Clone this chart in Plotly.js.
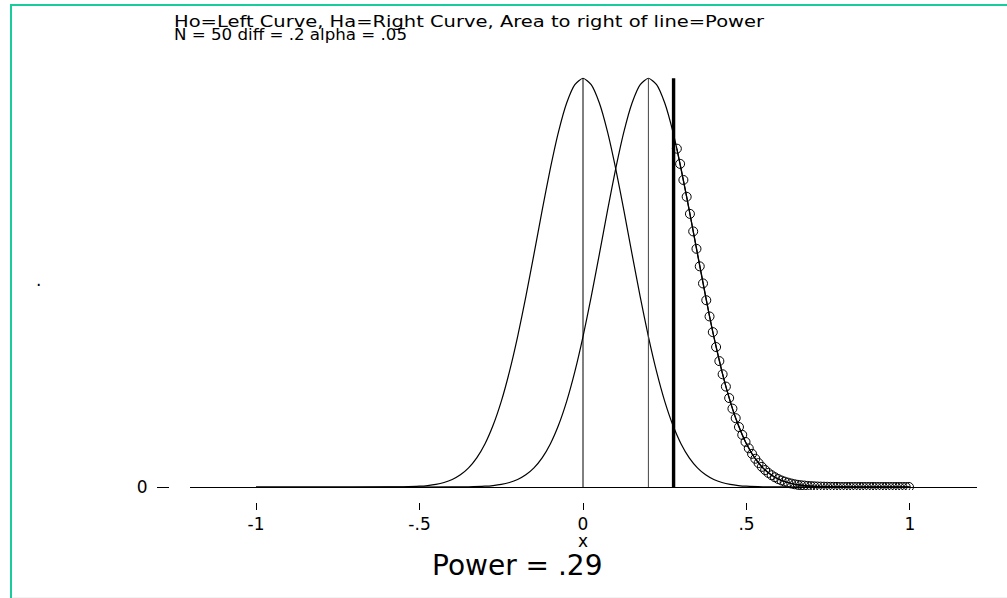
<!DOCTYPE html>
<html>
<head>
<meta charset="utf-8">
<script src="https://cdn.plot.ly/plotly-3.0.1.min.js"></script>
<style>
  html, body { margin: 0; padding: 0; background: #ffffff; }
  #wrap { position: relative; width: 1007px; height: 598px; overflow: hidden; }
  #chart { position: absolute; left: 0; top: 0; width: 1007px; height: 598px; }
  #frame { position: absolute; left: 10px; top: 4px; width: 1100px; height: 700px;
           border-left: 2px solid #19cc9c; border-top: 2px solid #19cc9c; pointer-events: none; }
  #bottomline { position: absolute; left: 12px; top: 597px; width: 1000px; height: 1px; background: #f2f4f4; }
</style>
</head>
<body>
<div id="wrap">
  <div id="chart"></div>
  <div id="frame"></div>
  <div id="bottomline"></div>
</div>
<script>
// ---- data ----
const hoX = [-1, -0.8, -0.6, -0.55, -0.5, -0.475, -0.45, -0.425, -0.4, -0.375, -0.35, -0.325, -0.3, -0.275,
  -0.25, -0.225, -0.2, -0.175, -0.15, -0.125, -0.1, -0.075, -0.05, -0.025, 0, 0.025, 0.05, 0.075, 0.1,
  0.125, 0.15, 0.175, 0.2, 0.225, 0.25, 0.275, 0.3, 0.325, 0.35, 0.375, 0.4, 0.425, 0.45, 0.475, 0.5,
  0.55, 0.6, 0.8, 1];
const hoY = [0, 0, 0.0003, 0.0015, 0.0054, 0.0100, 0.0179, 0.0309, 0.0517, 0.0839, 0.132, 0.201, 0.297, 0.426,
  0.591, 0.796, 1.038, 1.312, 1.607, 1.909, 2.197, 2.451, 2.650, 2.777, 2.821, 2.777, 2.650, 2.451, 2.197,
  1.909, 1.607, 1.312, 1.038, 0.796, 0.591, 0.426, 0.297, 0.201, 0.132, 0.0839, 0.0517, 0.0309, 0.0179, 0.0100, 0.0054,
  0.0015, 0.0003, 0, 0];
const haX = [-1, -0.6, -0.4, -0.35, -0.3, -0.275, -0.25, -0.225, -0.2, -0.175, -0.15, -0.125, -0.1, -0.075,
  -0.05, -0.025, 0, 0.025, 0.05, 0.075, 0.1, 0.125, 0.15, 0.175, 0.2, 0.225, 0.25, 0.275, 0.3,
  0.325, 0.35, 0.375, 0.4, 0.425, 0.45, 0.475, 0.5, 0.525, 0.55, 0.575, 0.6, 0.625, 0.65, 0.675, 0.7,
  0.75, 0.8, 0.9, 1];
const haY = [0, 0, 0.0003, 0.0015, 0.0054, 0.0100, 0.0179, 0.0309, 0.0517, 0.0839, 0.132, 0.201, 0.297, 0.426,
  0.591, 0.796, 1.038, 1.312, 1.607, 1.909, 2.197, 2.451, 2.650, 2.777, 2.821, 2.777, 2.650, 2.451, 2.197,
  1.909, 1.607, 1.312, 1.038, 0.796, 0.591, 0.426, 0.297, 0.201, 0.132, 0.0839, 0.0517, 0.0309, 0.0179, 0.0100, 0.0054,
  0.0015, 0.0003, 0, 0];
const powerX = [0.287, 0.297, 0.307, 0.317, 0.327, 0.337, 0.347, 0.357, 0.367, 0.377, 0.387, 0.397, 0.407, 0.417,
  0.427, 0.437, 0.447, 0.457, 0.467, 0.477, 0.487, 0.497, 0.507, 0.517, 0.527, 0.537, 0.547, 0.557, 0.567, 0.577,
  0.587, 0.597, 0.607, 0.617, 0.627, 0.637, 0.647, 0.657, 0.667, 0.677, 0.687, 0.697, 0.707, 0.717, 0.727, 0.737,
  0.747, 0.757, 0.767, 0.777, 0.787, 0.797, 0.807, 0.817, 0.827, 0.837, 0.847, 0.857, 0.867, 0.877, 0.887, 0.897,
  0.907, 0.917, 0.927, 0.937, 0.947, 0.957, 0.967, 0.977, 0.987, 0.997];
const powerY = [2.335, 2.230, 2.119, 2.003, 1.885, 1.764, 1.644, 1.523, 1.405, 1.289, 1.177, 1.069, 0.966, 0.869,
  0.778, 0.693, 0.614, 0.541, 0.475, 0.414, 0.360, 0.311, 0.267, 0.229, 0.195, 0.165, 0.139, 0.117, 0.097, 0.081,
  0.067, 0.055, 0.045, 0.037, 0.030, 0.024, 0.019, 0.015, 0.012, 0.010, 0.0075, 0.0059, 0.0046, 0.0035, 0.0027, 0.0021,
  0.0016, 0.0012, 0.0009, 0.0007, 0, 0, 0, 0, 0, 0, 0, 0, 0, 0, 0, 0, 0, 0, 0, 0, 0, 0, 0, 0, 0, 0];
const meanValues = [0, 0.2];
const criticalValue = 0.277;
const xTickVals = [-1, -0.5, 0, 0.5, 1];
const xTickText = ["-1", "-.5", "0", ".5", "1"];
const yTickVals = [0];
const yTickText = ["0"];
const xTitle = "x";
const yTitle = ".";
const titleLines = ["Ho=Left Curve, Ha=Right Curve, Area to right of line=Power", "N = 50 diff = .2 alpha = .05"];
const powerText = "Power = .29";

// ---- geometry ----
const W = 1007, H = 598;
const M = {l: 100, r: 30, t: 60, b: 40};
const pw = W - M.l - M.r, ph = H - M.t - M.b;
const px = v => (v - M.l) / pw;          // pixel -> paper x
const py = v => (H - M.b - v) / ph;      // pixel -> paper y
const peak = Math.max(...hoY);

const FONT = "DejaVu Sans";
const traces = [];
traces.push({x: hoX, y: hoY, mode: 'lines', line: {color: '#000', width: 1.2, shape: 'spline', smoothing: 0.6}, hoverinfo: 'skip'});
traces.push({x: haX, y: haY, mode: 'lines', line: {color: '#000', width: 1.2, shape: 'spline', smoothing: 0.6}, hoverinfo: 'skip'});
meanValues.forEach((m, i) => traces.push({x: [m, m], y: [0, peak], mode: 'lines',
  line: {color: i === 0 ? '#000' : '#444', width: 1}, hoverinfo: 'skip'}));
traces.push({x: [criticalValue, criticalValue], y: [0, peak], mode: 'lines', line: {color: '#000', width: 3.4}, hoverinfo: 'skip'});
traces.push({x: powerX, y: powerY, mode: 'lines+markers', line: {color: '#000', width: 1.2},
  marker: {symbol: 'circle-open', size: 9, color: '#000', line: {width: 1, color: '#000'}}, hoverinfo: 'skip'});

const layout = {
  width: W, height: H,
  margin: M,
  showlegend: false,
  paper_bgcolor: '#fff', plot_bgcolor: '#fff',
  font: {family: FONT, color: '#000', size: 17},
  xaxis: {
    domain: [px(190), 1], range: [-1.202, 1.205],
    anchor: 'free', position: py(502),
    showline: false, showgrid: false, zeroline: false,
    ticks: 'outside', ticklen: 7, tickwidth: 1, tickcolor: '#000',
    tickvals: xTickVals, ticktext: xTickText, ticklabelstandoff: 0,
    tickfont: {family: FONT, size: 17, color: '#000'}
  },
  yaxis: {
    domain: [py(490), 1], range: [-0.0207, 2.947],
    anchor: 'free', position: px(169),
    showline: false, showgrid: false,
    zeroline: true, zerolinecolor: '#000', zerolinewidth: 1,
    ticks: 'outside', ticklen: 12, tickwidth: 1, tickcolor: '#000',
    tickvals: yTickVals, ticktext: yTickText, ticklabelstandoff: 6,
    tickfont: {family: FONT, size: 17, color: '#000'}
  },
  annotations: [
    {text: titleLines[0], xref: 'paper', yref: 'paper', x: px(172), y: py(21.5), xanchor: 'left', yanchor: 'middle',
     showarrow: false, font: {family: FONT, size: 16, color: '#000'}},
    {text: titleLines[1], xref: 'paper', yref: 'paper', x: px(172), y: py(34), xanchor: 'left', yanchor: 'middle',
     showarrow: false, font: {family: FONT, size: 16, color: '#000'}},
    {text: xTitle, xref: 'paper', yref: 'paper', x: px(583), y: py(541), xanchor: 'center', yanchor: 'middle',
     showarrow: false, font: {family: FONT, size: 17, color: '#000'}},
    {text: powerText, xref: 'paper', yref: 'paper', x: px(517), y: py(565), xanchor: 'center', yanchor: 'middle',
     showarrow: false, font: {family: FONT, size: 28, color: '#000'}},
    {text: yTitle, xref: 'paper', yref: 'paper', x: px(38), y: py(280), xanchor: 'center', yanchor: 'middle',
     showarrow: false, font: {family: FONT, size: 17, color: '#000'}}
  ]
};

// target drawn widths of the two title lines (reference text is horizontally wide)
const titleWidths = [590, 233];

Plotly.newPlot('chart', traces, layout, {displayModeBar: false, staticPlot: true}).then(gd => {
  const groups = gd.querySelectorAll('.annotation');
  [0, 1].forEach(i => {
    const el = groups[i] && groups[i].querySelector('text.annotation-text');
    if (!el) return;
    const b0 = el.getBBox();
    el.setAttribute('textLength', titleWidths[i]);
    el.setAttribute('lengthAdjust', 'spacingAndGlyphs');
    const b1 = el.getBBox();
    const dx = b0.x - b1.x;
    const t = el.getAttribute('transform') || '';
    el.setAttribute('transform', (t + ' translate(' + dx + ',0)').trim());
  });
});
</script>
</body>
</html>
